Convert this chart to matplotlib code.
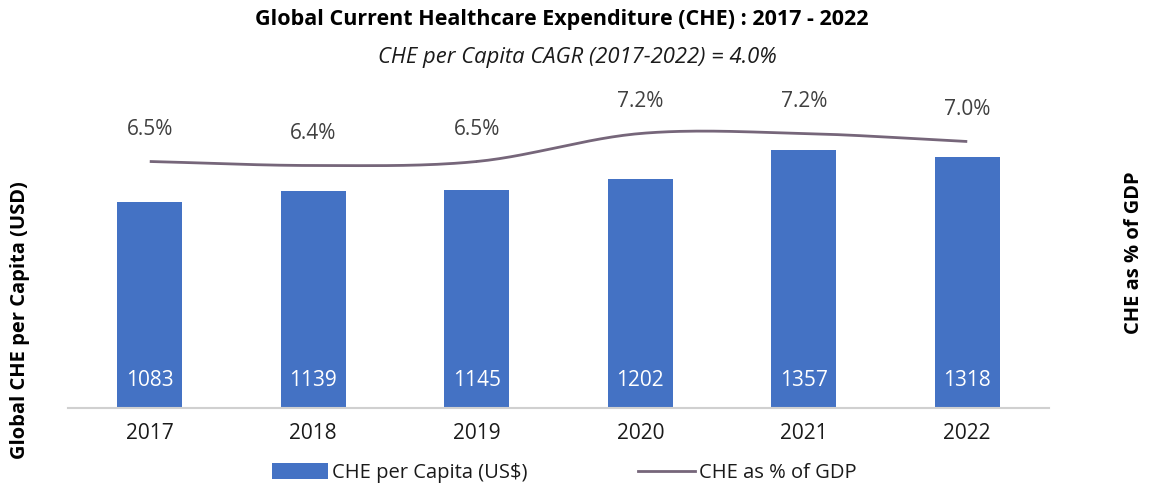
import numpy as np
import matplotlib
matplotlib.use("Agg")
import matplotlib.pyplot as plt
from matplotlib.lines import Line2D
from matplotlib.patches import Patch

plt.rcParams["font.family"] = ["Open Sans", "DejaVu Sans"]

# 数据
years = ["2017", "2018", "2019", "2020", "2021", "2022"]
che_per_capita = [1083, 1139, 1145, 1202, 1357, 1318]
che_pct_gdp = [6.5, 6.4, 6.5, 7.2, 7.2, 7.0]

BAR_COLOR = "#4472C4"
LINE_COLOR = "#76667A"
TEXT_GRAY = "#404040"


def smooth_curve(x, y, n=30):
    """Catmull-Rom 平滑 (类似 Excel 平滑线)"""
    x = np.asarray(x, float)
    y = np.asarray(y, float)
    px = np.concatenate([[2 * x[0] - x[1]], x, [2 * x[-1] - x[-2]]])
    py = np.concatenate([[2 * y[0] - y[1]], y, [2 * y[-1] - y[-2]]])
    xs, ys = [], []
    t = np.linspace(0, 1, n)
    for i in range(1, len(px) - 2):
        for arr, out in ((px, xs), (py, ys)):
            p0, p1, p2, p3 = arr[i - 1], arr[i], arr[i + 1], arr[i + 2]
            out.extend(0.5 * ((2 * p1) + (-p0 + p2) * t
                              + (2 * p0 - 5 * p1 + 4 * p2 - p3) * t ** 2
                              + (-p0 + 3 * p1 - 3 * p2 + p3) * t ** 3))
    return np.array(xs), np.array(ys)


fig = plt.figure(figsize=(11.49, 4.88), dpi=100)
# 轴区域: x 68..1049, y 95..408 (像素)
ax = fig.add_axes([68 / 1149, 1 - 408 / 488, (1049 - 68) / 1149, (408 - 95) / 488])
x = np.arange(len(years))

bars = ax.bar(x, che_per_capita, width=0.4, color=BAR_COLOR, zorder=2)
ax.set_xlim(-0.5, len(years) - 0.5)
ax.set_ylim(0, 313 / 0.1902)

for xi, v in zip(x, che_per_capita):
    ax.text(xi, 27 / 0.1902, str(v), ha="center", va="center",
            color="white", fontsize=15)

ax.set_xticks(x)
ax.set_xticklabels(years, fontsize=15, color="#1a1a1a")
ax.tick_params(axis="x", length=0, pad=11)
ax.set_yticks([])
for s in ["top", "left", "right"]:
    ax.spines[s].set_visible(False)
ax.spines["bottom"].set_color("#D0D0D0")
ax.spines["bottom"].set_linewidth(1.5)

# 副轴: 折线
ax2 = ax.twinx()
px_per_pct = 40.0
y_at_65 = 161.5
lo = 6.5 - (408 - y_at_65) / px_per_pct
hi = lo + 313 / px_per_pct
ax2.set_ylim(lo, hi)
ax2.set_yticks([])
for s in ["top", "left", "right", "bottom"]:
    ax2.spines[s].set_visible(False)

sx, sy = smooth_curve(x, che_pct_gdp)
ax2.plot(sx, sy, color=LINE_COLOR, linewidth=2, solid_capstyle="butt", zorder=3)
for xi, v in zip(x, che_pct_gdp):
    ax2.text(xi, v + 32 / px_per_pct, f"{v:.1f}%", ha="center", va="center",
             color=TEXT_GRAY, fontsize=15)

# 标题
fig.text(562 / 1149, 1 - 20 / 488, "Global Current Healthcare Expenditure (CHE) : 2017 - 2022",
         ha="center", va="center", fontsize=15.5, fontweight="bold", color="black")
fig.text(577 / 1149, 1 - 58 / 488, "CHE per Capita CAGR (2017-2022) = 4.0%",
         ha="center", va="center", fontsize=15.8, fontstyle="italic", color="#1a1a1a")

# 轴标题
fig.text(20 / 1149, 1 - 320 / 488, "Global CHE per Capita (USD)", rotation=90,
         ha="center", va="center", fontsize=14.5, fontweight="bold", color="black")
fig.text(1134 / 1149, 1 - 253 / 488, "CHE as % of GDP", rotation=90,
         ha="center", va="center", fontsize=14.5, fontweight="bold", color="black")

# 图例
handles = [Patch(facecolor=BAR_COLOR, edgecolor="none"),
           Line2D([0], [0], color=LINE_COLOR, linewidth=2)]
fig.legend(handles, ["CHE per Capita (US$)", "CHE as % of GDP"],
           loc="center", bbox_to_anchor=(564 / 1149, 1 - 473 / 488), ncol=2,
           frameon=False, fontsize=14.5, handlelength=2.8, handleheight=0.8,
           columnspacing=5.5, handletextpad=0.2, labelcolor="#1a1a1a")

fig.savefig("out.png", dpi=100, facecolor="white")
